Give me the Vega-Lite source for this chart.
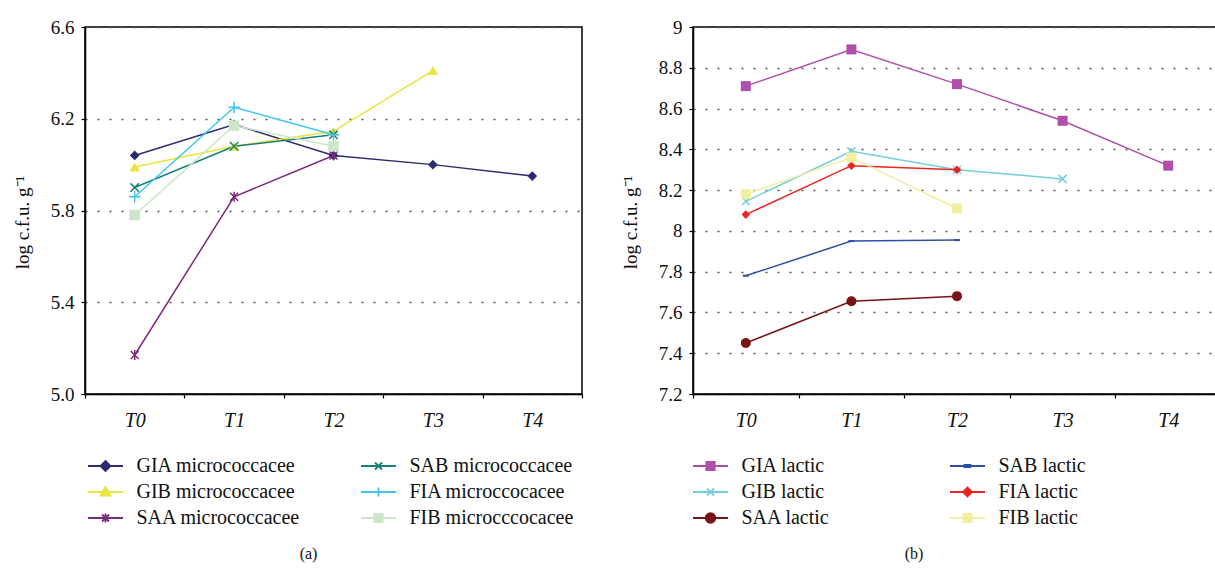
{
  "$schema": "https://vega.github.io/schema/vega-lite/v6.json",
  "background": "white",
  "padding": {"left": 12, "top": 17, "right": 0, "bottom": 0},
  "spacing": 36,
  "datasets": {
    "a": [
      {"series": "GIA micrococcacee", "time": "T0", "value": 6.04},
      {"series": "GIA micrococcacee", "time": "T1", "value": 6.175},
      {"series": "GIA micrococcacee", "time": "T2", "value": 6.04},
      {"series": "GIA micrococcacee", "time": "T3", "value": 6.0},
      {"series": "GIA micrococcacee", "time": "T4", "value": 5.95},
      {"series": "GIB micrococcacee", "time": "T0", "value": 5.99},
      {"series": "GIB micrococcacee", "time": "T1", "value": 6.08},
      {"series": "GIB micrococcacee", "time": "T2", "value": 6.145},
      {"series": "GIB micrococcacee", "time": "T3", "value": 6.41},
      {"series": "SAA micrococcacee", "time": "T0", "value": 5.17},
      {"series": "SAA micrococcacee", "time": "T1", "value": 5.86},
      {"series": "SAA micrococcacee", "time": "T2", "value": 6.04},
      {"series": "SAB micrococcacee", "time": "T0", "value": 5.9},
      {"series": "SAB micrococcacee", "time": "T1", "value": 6.08},
      {"series": "SAB micrococcacee", "time": "T2", "value": 6.13},
      {"series": "FIA microccocacee", "time": "T0", "value": 5.86},
      {"series": "FIA microccocacee", "time": "T1", "value": 6.25},
      {"series": "FIA microccocacee", "time": "T2", "value": 6.13},
      {"series": "FIB microcccocacee", "time": "T0", "value": 5.78},
      {"series": "FIB microcccocacee", "time": "T1", "value": 6.17},
      {"series": "FIB microcccocacee", "time": "T2", "value": 6.08}
    ],
    "b": [
      {"series": "GIA lactic", "time": "T0", "value": 8.71},
      {"series": "GIA lactic", "time": "T1", "value": 8.89},
      {"series": "GIA lactic", "time": "T2", "value": 8.72},
      {"series": "GIA lactic", "time": "T3", "value": 8.54},
      {"series": "GIA lactic", "time": "T4", "value": 8.32},
      {"series": "GIB lactic", "time": "T0", "value": 8.145},
      {"series": "GIB lactic", "time": "T1", "value": 8.39},
      {"series": "GIB lactic", "time": "T2", "value": 8.3},
      {"series": "GIB lactic", "time": "T3", "value": 8.255},
      {"series": "SAA lactic", "time": "T0", "value": 7.45},
      {"series": "SAA lactic", "time": "T1", "value": 7.655},
      {"series": "SAA lactic", "time": "T2", "value": 7.68},
      {"series": "SAB lactic", "time": "T0", "value": 7.78},
      {"series": "SAB lactic", "time": "T1", "value": 7.95},
      {"series": "SAB lactic", "time": "T2", "value": 7.955},
      {"series": "FIA lactic", "time": "T0", "value": 8.08},
      {"series": "FIA lactic", "time": "T1", "value": 8.32},
      {"series": "FIA lactic", "time": "T2", "value": 8.3},
      {"series": "FIB lactic", "time": "T0", "value": 8.18},
      {"series": "FIB lactic", "time": "T1", "value": 8.36},
      {"series": "FIB lactic", "time": "T2", "value": 8.11}
    ]
  },
  "hconcat": [
    {
      "width": 497,
      "height": 367,
      "data": {"name": "a"},
      "title": {"text": "(a)", "orient": "bottom", "anchor": "middle", "frame": "group", "dx": -25, "offset": 18, "fontSize": 16, "fontWeight": "normal", "font": "Liberation Serif", "color": "#111"},
      "encoding": {
        "x": {"field": "time", "type": "ordinal", "scale": {"type": "band", "domain": ["T0", "T1", "T2", "T3", "T4"], "paddingInner": 0, "paddingOuter": 0},
          "axis": {"title": null, "tickBand": "extent", "tickSize": 4, "labelPadding": 12, "labelFontSize": 20, "labelFontStyle": "italic", "labelAngle": 0, "grid": false}},
        "y": {"field": "value", "type": "quantitative", "scale": {"domain": [5.0, 6.6], "nice": false, "zero": false},
          "axis": {"values": [5.0, 5.4, 5.8, 6.2, 6.6], "format": ".1f", "title": "log c.f.u. g⁻¹", "titleFontSize": 19, "titleFont": "Liberation Serif", "titleFontWeight": "normal", "titleY": 195, "grid": true, "gridDash": [2, 10], "gridColor": "#555", "gridWidth": 1.5, "tickSize": 4, "labelPadding": 7, "titlePadding": 18}},
        "color": {"field": "series", "type": "nominal",
          "scale": {"domain": ["GIA micrococcacee", "GIB micrococcacee", "SAA micrococcacee", "SAB micrococcacee", "FIA microccocacee", "FIB microcccocacee"],
            "range": ["#2b2b70", "#eae43c", "#7a2a7e", "#148079", "#3fc6ef", "#cde6c9"]},
          "legend": {"orient": "none", "legendX": 2, "legendY": 428, "columns": 2, "columnPadding": 56, "rowPadding": 5,
            "symbolSize": 400, "symbolOffset": 7.5, "labelOffset": 20, "labelFontSize": 20, "labelFont": "Liberation Serif", "labelColor": "#111", "labelLimit": 300, "title": null,
            "encode": {"symbols": {"update": {
              "shape": {"signal": "{'GIA micrococcacee':'M-1.75,0H1.75M0,-0.5L0.5,0L0,0.5L-0.5,0Z','GIB micrococcacee':'M-1.75,0H1.75M0,-0.5L0.5,0.35L-0.5,0.35Z','SAA micrococcacee':'M-1.75,0H1.75M-0.35,-0.35L0.35,0.35M-0.35,0.35L0.35,-0.35M0,-0.45V0.45','SAB micrococcacee':'M-1.75,0H1.75M-0.35,-0.35L0.35,0.35M-0.35,0.35L0.35,-0.35','FIA microccocacee':'M-1.75,0H1.75M0,-0.45V0.45','FIB microcccocacee':'M-1.75,0H1.75M-0.42,-0.42H0.42V0.42H-0.42Z'}[datum.value]"},
              "fill": {"signal": "{'GIA micrococcacee':'#2b2b70','GIB micrococcacee':'#eae43c','SAA micrococcacee':'#7a2a7e','SAB micrococcacee':'#148079','FIA microccocacee':'#3fc6ef','FIB microcccocacee':'#cde6c9'}[datum.value]"},
              "stroke": {"signal": "{'GIA micrococcacee':'#2b2b70','GIB micrococcacee':'#eae43c','SAA micrococcacee':'#7a2a7e','SAB micrococcacee':'#148079','FIA microccocacee':'#3fc6ef','FIB microcccocacee':'#cde6c9'}[datum.value]"},
              "strokeWidth": {"value": 1.8},
              "opacity": {"value": 1}
            }}}}}
      },
      "layer": [
        {"mark": {"type": "line", "strokeWidth": 1.5}},
        {"transform": [{"filter": {"field": "series", "equal": "GIA micrococcacee"}}],
          "mark": {"type": "point", "shape": "diamond", "filled": true, "size": 95, "opacity": 1}},
        {"transform": [{"filter": {"field": "series", "equal": "GIB micrococcacee"}}],
          "mark": {"type": "point", "shape": "triangle-up", "filled": true, "size": 110, "opacity": 1}},
        {"transform": [{"filter": {"field": "series", "equal": "SAA micrococcacee"}}],
          "mark": {"type": "point", "shape": "M-0.8,-0.8L0.8,0.8M-0.8,0.8L0.8,-0.8M0,-1V1", "filled": false, "strokeWidth": 1.5, "size": 100, "opacity": 1}},
        {"transform": [{"filter": {"field": "series", "equal": "SAB micrococcacee"}}],
          "mark": {"type": "point", "shape": "M-0.8,-0.8L0.8,0.8M-0.8,0.8L0.8,-0.8", "filled": false, "strokeWidth": 1.5, "size": 110, "opacity": 1}},
        {"transform": [{"filter": {"field": "series", "equal": "FIA microccocacee"}}],
          "mark": {"type": "point", "shape": "M-1,0H1M0,-1V1", "filled": false, "strokeWidth": 1.5, "size": 130, "opacity": 1}},
        {"transform": [{"filter": {"field": "series", "equal": "FIB microcccocacee"}}],
          "mark": {"type": "point", "shape": "square", "filled": true, "size": 110, "opacity": 1}}
      ]
    },
    {
      "width": 528,
      "height": 367,
      "data": {"name": "b"},
      "title": {"text": "(b)", "orient": "bottom", "anchor": "middle", "frame": "group", "dx": -43, "offset": 18, "fontSize": 16, "fontWeight": "normal", "font": "Liberation Serif", "color": "#111"},
      "encoding": {
        "x": {"field": "time", "type": "ordinal", "scale": {"type": "band", "domain": ["T0", "T1", "T2", "T3", "T4"], "paddingInner": 0, "paddingOuter": 0},
          "axis": {"title": null, "tickBand": "extent", "tickSize": 4, "labelPadding": 12, "labelFontSize": 20, "labelFontStyle": "italic", "labelAngle": 0, "grid": false}},
        "y": {"field": "value", "type": "quantitative", "scale": {"domain": [7.2, 9.0], "nice": false, "zero": false},
          "axis": {"values": [7.2, 7.4, 7.6, 7.8, 8.0, 8.2, 8.4, 8.6, 8.8, 9.0], "format": "~g", "title": "log c.f.u. g⁻¹", "titleFontSize": 19, "titleFont": "Liberation Serif", "titleFontWeight": "normal", "titleY": 195, "grid": true, "gridDash": [2, 10], "gridColor": "#555", "gridWidth": 1.5, "tickSize": 4, "labelPadding": 7, "titlePadding": 18}},
        "color": {"field": "series", "type": "nominal",
          "scale": {"domain": ["GIA lactic", "GIB lactic", "SAA lactic", "SAB lactic", "FIA lactic", "FIB lactic"],
            "range": ["#b04fab", "#72d0dc", "#7a1316", "#2f4fa6", "#ee2424", "#f3efa0"]},
          "legend": {"orient": "none", "legendX": -1, "legendY": 428, "columns": 2, "columnPadding": 116, "rowPadding": 5,
            "symbolSize": 400, "symbolOffset": 7.5, "labelOffset": 20, "labelFontSize": 20, "labelFont": "Liberation Serif", "labelColor": "#111", "labelLimit": 300, "title": null,
            "encode": {"symbols": {"update": {
              "shape": {"signal": "{'GIA lactic':'M-1.75,0H1.75M-0.42,-0.42H0.42V0.42H-0.42Z','GIB lactic':'M-1.75,0H1.75M-0.35,-0.35L0.35,0.35M-0.35,0.35L0.35,-0.35','SAA lactic':'M-1.75,0H1.75M-0.48,0A0.48,0.48,0,1,0,0.48,0A0.48,0.48,0,1,0,-0.48,0Z','SAB lactic':'M-1.75,0H1.75M-0.3,-0.12H0.3V0.12H-0.3Z','FIA lactic':'M-1.75,0H1.75M0,-0.45L0.45,0L0,0.45L-0.45,0Z','FIB lactic':'M-1.75,0H1.75M-0.42,-0.42H0.42V0.42H-0.42Z'}[datum.value]"},
              "fill": {"signal": "{'GIA lactic':'#b04fab','GIB lactic':'#72d0dc','SAA lactic':'#7a1316','SAB lactic':'#2f4fa6','FIA lactic':'#ee2424','FIB lactic':'#f3efa0'}[datum.value]"},
              "stroke": {"signal": "{'GIA lactic':'#b04fab','GIB lactic':'#72d0dc','SAA lactic':'#7a1316','SAB lactic':'#2f4fa6','FIA lactic':'#ee2424','FIB lactic':'#f3efa0'}[datum.value]"},
              "strokeWidth": {"value": 1.8},
              "opacity": {"value": 1}
            }}}}}
      },
      "layer": [
        {"mark": {"type": "line", "strokeWidth": 1.5}},
        {"transform": [{"filter": {"field": "series", "equal": "GIA lactic"}}],
          "mark": {"type": "point", "shape": "square", "filled": true, "size": 100, "opacity": 1}},
        {"transform": [{"filter": {"field": "series", "equal": "GIB lactic"}}],
          "mark": {"type": "point", "shape": "M-0.8,-0.8L0.8,0.8M-0.8,0.8L0.8,-0.8", "filled": false, "strokeWidth": 1.5, "size": 100, "opacity": 1}},
        {"transform": [{"filter": {"field": "series", "equal": "SAA lactic"}}],
          "mark": {"type": "point", "shape": "circle", "filled": true, "size": 100, "opacity": 1}},
        {"transform": [{"filter": {"field": "series", "equal": "SAB lactic"}}],
          "mark": {"type": "point", "shape": "M-0.6,-0.2H0.6V0.2H-0.6Z", "filled": true, "size": 100, "opacity": 1}},
        {"transform": [{"filter": {"field": "series", "equal": "FIA lactic"}}],
          "mark": {"type": "point", "shape": "diamond", "filled": true, "size": 75, "opacity": 1}},
        {"transform": [{"filter": {"field": "series", "equal": "FIB lactic"}}],
          "mark": {"type": "point", "shape": "square", "filled": true, "size": 100, "opacity": 1}}
      ]
    }
  ],
  "resolve": {"scale": {"color": "independent", "y": "independent", "x": "independent"}, "legend": {"color": "independent"}},
  "config": {
    "font": "Liberation Serif",
    "view": {"stroke": "black", "strokeWidth": 1.5},
    "title": {"fontSize": 16, "font": "Liberation Serif", "fontWeight": "normal"},
    "style": {"guide-title": {"fontSize": 19, "font": "Liberation Serif", "fontWeight": "normal"}},
    "axisY": {"titleFontSize": 19},
    "axis": {"labelFont": "Liberation Serif", "titleFont": "Liberation Serif", "labelColor": "#111", "titleColor": "#111", "labelFontSize": 19, "titleFontSize": 19, "titleFontWeight": "normal", "domainColor": "black", "tickColor": "black", "domainWidth": 1.5, "tickWidth": 1.2}
  }
}
